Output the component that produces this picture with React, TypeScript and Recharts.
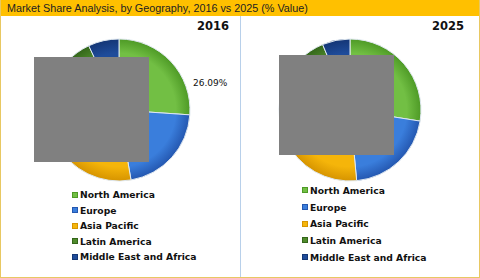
import React from 'react'
import { PieChart, Pie, Cell } from 'recharts'

const regions = ['North America', 'Europe', 'Asia Pacific', 'Latin America', 'Middle East and Africa']
const share2016 = [26.09, 21.2, 39.7, 6.0, 7.0]
const share2025 = [27.5, 21.0, 39.0, 6.2, 6.3]
const colors = ['#72BF44', '#3A7EDC', '#F5B50A', '#4F8B2C', '#1F4C9A']
const edges = ['#4E9A26', '#2457B0', '#D69400', '#34661A', '#143676']

const build = (vals: number[]) => regions.map((name, i) => ({ name, value: vals[i] }))

const font = 'Verdana, "DejaVu Sans", sans-serif'

const LegendBox = ({ left, top, gap }: any) => (
  <div
    style={{
      position: 'absolute',
      left,
      top,
      fontFamily: font,
      fontWeight: 'bold',
      fontSize: 9.2,
      color: '#111',
    }}
  >
    {regions.map((name, i) => (
      <div key={name} style={{ display: 'flex', alignItems: 'center', height: gap }}>
        <span
          style={{
            width: 6,
            height: 6,
            background: colors[i],
            border: '1px solid ' + edges[i],
            marginRight: 2,
            boxSizing: 'border-box',
          }}
        />
        {name}
      </div>
    ))}
  </div>
)

const Panel = ({ year, vals, id, showLabel, yearX }: any) => {
  const data = build(vals)
  const cx = 118
  const cy = 94
  const r = 71
  const renderLabel = (props: any) => {
    if (!showLabel || props.index !== 0) return null
    return (
      <text x={props.cx + props.outerRadius + 3} y={props.cy - 27} fontFamily={font} fontSize={9} fill="#111" dominantBaseline="middle">
        {props.value.toFixed(2)}%
      </text>
    )
  }
  return (
    <PieChart width={238} height={260} margin={{ top: 0, right: 0, bottom: 0, left: 0 }}>
      <defs>
        {colors.map((c, i) => (
          <radialGradient key={i} id={`${id}g${i}`} gradientUnits="userSpaceOnUse" cx={cx} cy={cy} r={r}>
            <stop offset="0%" stopColor={c} />
            <stop offset="80%" stopColor={c} />
            <stop offset="100%" stopColor={edges[i]} />
          </radialGradient>
        ))}
      </defs>
      <text x={yearX} y={14} textAnchor="end" fontFamily={font} fontWeight="bold" fontSize={11.5} fill="#111">
        {year}
      </text>
      <Pie
        data={data}
        dataKey="value"
        nameKey="name"
        cx={cx}
        cy={cy}
        outerRadius={r}
        startAngle={90}
        endAngle={-270}
        stroke="#dfe8f0"
        strokeWidth={1}
        label={renderLabel}
        labelLine={false}
        isAnimationActive={false}
      >
        {data.map((d, i) => (
          <Cell key={d.name} fill={`url(#${id}g${i})`} />
        ))}
      </Pie>
    </PieChart>
  )
}

export default function App() {
  return (
    <div
      style={{
        position: 'fixed',
        left: 0,
        top: 0,
        width: 480,
        height: 278,
        background: '#fff',
        boxSizing: 'border-box',
        border: '1px solid #E8C862',
        borderTop: 'none',
        overflow: 'hidden',
      }}
    >
      <div
        style={{
          height: 16,
          background: '#FFC000',
          fontFamily: 'Arial, "Liberation Sans", sans-serif',
          fontSize: 10.8,
          lineHeight: '17px',
          paddingLeft: 6,
          color: '#222',
        }}
      >
        Market Share Analysis, by Geography, 2016 vs 2025 (% Value)
      </div>
      <div style={{ position: 'absolute', top: 16, left: 0 }}>
        <Panel year="2016" vals={share2016} id="a" showLabel yearX={228} />
      </div>
      <LegendBox left={71} top={187} gap={15.5} />
      <div style={{ position: 'absolute', top: 16, left: 239, width: 1, height: 262, background: '#B8D0EA' }} />
      <div style={{ position: 'absolute', top: 16, left: 231 }}>
        <Panel year="2025" vals={share2025} id="b" showLabel={false} yearX={232} />
      </div>
      <LegendBox left={301} top={182} gap={16.7} />
      <div style={{ position: 'absolute', left: 33, top: 57, width: 115, height: 105, background: '#808080' }} />
      <div style={{ position: 'absolute', left: 278, top: 55, width: 115, height: 100, background: '#808080' }} />
    </div>
  )
}
